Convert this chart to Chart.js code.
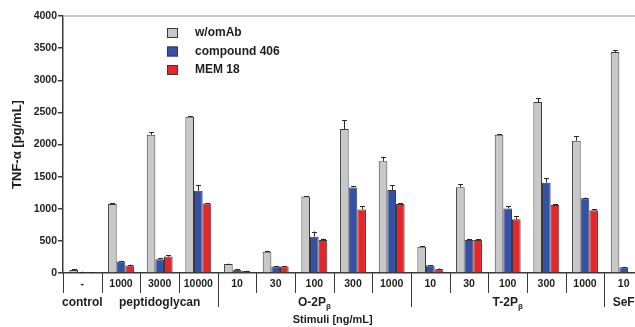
<!DOCTYPE html>
<html>
<head>
<meta charset="utf-8">
<script src="https://cdn.jsdelivr.net/npm/chart.js@4.4.1/dist/chart.umd.min.js"></script>
<style>
html, body { margin: 0; padding: 0; background: #fff; overflow: hidden; }
#wrap { width: 645px; height: 327px; }
</style>
</head>
<body>
<div id="wrap"><canvas id="chart" width="645" height="327"></canvas></div>
<script>
// stimulus concentrations, one per bar group
const categories = ['-', '1000', '3000', '10000', '10', '30', '100', '300', '1000', '10', '30', '100', '300', '1000', '10'];

// groups of stimuli under the concentration row
const groupNames = ['control', 'peptidoglycan', 'O-2P', 'T-2P', 'SeF'];
const groupSubs = ['', '', 'β', 'β', ''];
const groupSizes = [1, 3, 5, 5, 1];

const seriesNames = ['w/omAb', 'compound 406', 'MEM 18'];

// TNF-alpha [pg/mL]
const withoutMab = [45, 1075, 2150, 2430, 140, 330, 1190, 2240, 1740, 410, 1335, 2150, 2660, 2060, 3440];
const compound406 = [15, 180, 215, 1280, 50, 100, 565, 1330, 1290, 115, 515, 1005, 1405, 1165, 90];
const mem18 = [8, 115, 255, 1080, 30, 100, 515, 990, 1075, 60, 515, 835, 1060, 975, 0];

// upper error (SD)
const withoutMabErr = [10, 12, 40, 15, 5, 15, 10, 140, 70, 10, 45, 10, 60, 65, 30];
const compound406Err = [5, 10, 20, 90, 5, 10, 80, 20, 75, 10, 10, 35, 75, 10, 5];
const mem18Err = [3, 15, 25, 10, 5, 10, 20, 50, 10, 10, 10, 45, 10, 15, 0];

const yTicks = [0, 500, 1000, 1500, 2000, 2500, 3000, 3500, 4000];

const seriesColors = ['#c8c8c8', '#3351a6', '#e5262a'];
const edgeColor = '#3a3a3a';
const textColor = '#1e1e1e';
const fontFamily = '"Liberation Sans", Arial, sans-serif';

const errorSets = [withoutMabErr, compound406Err, mem18Err];

const errorBars = {
    id: 'errorBars',
    afterDatasetsDraw(chart) {
        let ctx = chart.ctx;
        let yScale = chart.scales.y;
        ctx.save();
        ctx.strokeStyle = '#2a2a2a';
        ctx.lineWidth = 1;
        chart.data.datasets.forEach((ds, i) => {
            let meta = chart.getDatasetMeta(i);
            meta.data.forEach((bar, j) => {
                let err = errorSets[i][j];
                if (!err) return;
                let top = yScale.getPixelForValue(ds.data[j]);
                let end = yScale.getPixelForValue(ds.data[j] + err);
                let x = Math.round(bar.x) + 0.5;
                ctx.beginPath();
                ctx.moveTo(x, top);
                ctx.lineTo(x, end);
                ctx.moveTo(x - 2.5, Math.round(end) + 0.5);
                ctx.lineTo(x + 2.5, Math.round(end) + 0.5);
                ctx.stroke();
            });
        });
        ctx.restore();
    }
};

// separators, group names, x title, top frame line and legend
const decorations = {
    id: 'decorations',
    afterDraw(chart) {
        let ctx = chart.ctx;
        let area = chart.chartArea;
        let xScale = chart.scales.x;
        let step = xScale.getPixelForValue(1) - xScale.getPixelForValue(0);
        ctx.save();

        // top frame line
        ctx.strokeStyle = '#b5b5b5';
        ctx.lineWidth = 1.5;
        ctx.beginPath();
        ctx.moveTo(area.left, area.top);
        ctx.lineTo(area.right, area.top);
        ctx.stroke();

        // separators between categories, longer ones between stimuli
        let groupStarts = {};
        let idx = 0;
        for (let g = 0; g < groupSizes.length; g++) {
            groupStarts[idx] = g;
            idx += groupSizes[g];
        }
        ctx.strokeStyle = edgeColor;
        ctx.lineWidth = 1;
        for (let i = 0; i <= categories.length; i++) {
            let x = Math.round(xScale.getPixelForValue(i) - step / 2) + 0.5;
            let g = groupStarts[i];
            let len = (g !== undefined && g > 1) ? 34 : 20;
            ctx.beginPath();
            ctx.moveTo(x, area.bottom);
            ctx.lineTo(x, area.bottom + len);
            ctx.stroke();
        }

        // group labels
        ctx.fillStyle = textColor;
        ctx.textBaseline = 'middle';
        idx = 0;
        for (let g = 0; g < groupNames.length; g++) {
            let first = xScale.getPixelForValue(idx);
            let last = xScale.getPixelForValue(idx + groupSizes[g] - 1);
            let cx = (first + last) / 2;
            let cy = area.bottom + 30;
            ctx.font = 'bold 12px ' + fontFamily;
            let w = ctx.measureText(groupNames[g]).width;
            ctx.font = 'bold 8px ' + fontFamily;
            let ws = groupSubs[g] ? ctx.measureText(groupSubs[g]).width : 0;
            let x0 = cx - (w + ws) / 2;
            ctx.textAlign = 'left';
            ctx.font = 'bold 12px ' + fontFamily;
            ctx.fillText(groupNames[g], x0, cy);
            if (groupSubs[g]) {
                ctx.font = 'bold 8px ' + fontFamily;
                ctx.fillText(groupSubs[g], x0 + w, cy + 4);
            }
            idx += groupSizes[g];
        }

        // x axis title
        ctx.font = 'bold 11px ' + fontFamily;
        ctx.textAlign = 'center';
        ctx.fillText('Stimuli [ng/mL]', area.left + (area.right - area.left) * 0.465, area.bottom + 47);

        // legend
        let lx = area.left + 104;
        for (let i = 0; i < seriesNames.length; i++) {
            let cy = area.top + 17 + i * 18.5;
            ctx.fillStyle = seriesColors[i];
            ctx.fillRect(lx, cy - 5, 11, 10);
            ctx.strokeStyle = edgeColor;
            ctx.lineWidth = 1;
            ctx.strokeRect(lx + 0.5, cy - 4.5, 10, 9);
            ctx.fillStyle = textColor;
            ctx.font = 'bold 12px ' + fontFamily;
            ctx.textAlign = 'left';
            ctx.fillText(seriesNames[i], lx + 28, cy);
        }
        ctx.restore();
    }
};

const seriesData = [withoutMab, compound406, mem18];
let datasets = [];
for (let i = 0; i < seriesNames.length; i++) {
    datasets.push({
        label: seriesNames[i],
        data: seriesData[i],
        backgroundColor: seriesColors[i],
        borderColor: edgeColor,
        borderWidth: 1,
        borderSkipped: 'bottom',
        categoryPercentage: 0.67,
        barPercentage: 1.0
    });
}

new Chart(document.getElementById('chart'), {
    type: 'bar',
    data: { labels: categories, datasets: datasets },
    plugins: [errorBars, decorations],
    options: {
        responsive: false,
        animation: false,
        devicePixelRatio: 1,
        layout: { padding: { top: 16, left: 0, right: 2, bottom: 0 } },
        plugins: { legend: { display: false }, tooltip: { enabled: false } },
        scales: {
            x: {
                grid: { display: false, drawTicks: false },
                border: { display: true, color: edgeColor, width: 1.5 },
                ticks: {
                    color: textColor,
                    font: { family: fontFamily, size: 10.5, weight: 'bold' },
                    padding: 5,
                    maxRotation: 0,
                    autoSkip: false
                },
                afterFit(scale) { scale.height = 54; }
            },
            y: {
                min: 0,
                max: 4000,
                afterBuildTicks(scale) { scale.ticks = yTicks.map(v => ({ value: v })); },
                grid: { drawOnChartArea: false, drawTicks: true, tickLength: 5, color: edgeColor, lineWidth: 1.5 },
                border: { display: true, color: edgeColor, width: 1.5 },
                ticks: {
                    color: textColor,
                    font: { family: fontFamily, size: 10.5, weight: 'bold' },
                    padding: 1,
                    callback: v => String(v)
                },
                title: {
                    display: true,
                    text: 'TNF-α [pg/mL]',
                    color: textColor,
                    font: { family: fontFamily, size: 13, weight: 'bold' },
                    padding: { top: 10, bottom: 0 }
                },
                afterFit(scale) { scale.width = 63; }
            }
        }
    }
});
</script>
</body>
</html>
